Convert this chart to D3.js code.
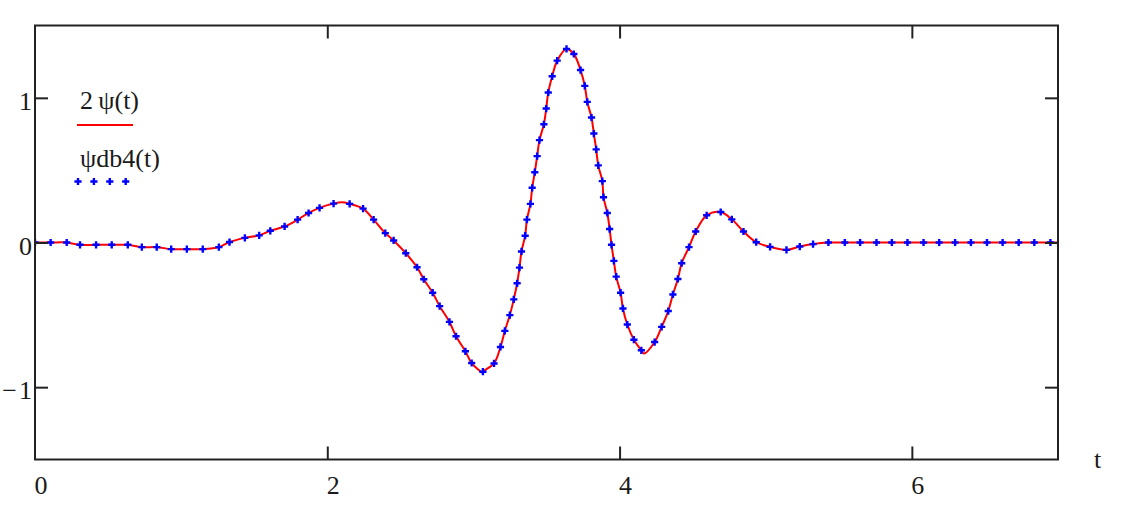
<!DOCTYPE html>
<html>
<head>
<meta charset="utf-8">
<script src="https://cdn.jsdelivr.net/npm/d3@7"></script>
<style>
  body { margin: 0; background: #fff; }
  svg { display: block; font-family: "Liberation Serif", "Times New Roman", serif; }
</style>
</head>
<body>
<div id="chart"></div>
<script>
// samples of psi_db4(t) (blue crosses)
const tValues = [
  0, 0.107, 0.217, 0.308, 0.418, 0.525, 0.635, 0.731, 0.833, 0.932,
  1.039, 1.148, 1.258, 1.331, 1.436, 1.534, 1.61, 1.708, 1.797, 1.872,
  1.947, 2.043, 2.153, 2.245, 2.317, 2.397, 2.454, 2.537, 2.614, 2.66,
  2.721, 2.769, 2.836, 2.881, 2.945, 2.988, 3.065, 3.141, 3.185, 3.215,
  3.249, 3.276, 3.299, 3.315, 3.329, 3.354, 3.366, 3.39, 3.402, 3.42,
  3.436, 3.452, 3.482, 3.498, 3.512, 3.539, 3.573, 3.637, 3.687, 3.733,
  3.762, 3.779, 3.808, 3.824, 3.84, 3.854, 3.882, 3.89, 3.916, 3.932,
  3.945, 3.961, 3.977, 4.007, 4.023, 4.053, 4.098, 4.149, 4.24, 4.288,
  4.333, 4.365, 4.399, 4.425, 4.475, 4.521, 4.596, 4.692, 4.768, 4.848,
  4.935, 5.03, 5.142, 5.233, 5.324, 5.429, 5.541, 5.646, 5.758, 5.863,
  5.97, 6.08, 6.187, 6.296, 6.404, 6.514, 6.621, 6.731, 6.838, 6.948
];
const psiValues = [
  0, 0, 0, -0.016, -0.016, -0.016, -0.016, -0.032, -0.032, -0.046,
  -0.046, -0.046, -0.032, 0.003, 0.032, 0.049, 0.081, 0.111, 0.158, 0.204,
  0.239, 0.269, 0.267, 0.234, 0.158, 0.065, 0.014, -0.074, -0.171, -0.254,
  -0.347, -0.44, -0.549, -0.648, -0.752, -0.833, -0.893, -0.836, -0.722, -0.611,
  -0.502, -0.393, -0.282, -0.174, -0.062, 0.047, 0.158, 0.267, 0.378, 0.486,
  0.597, 0.708, 0.817, 0.926, 1.037, 1.149, 1.257, 1.338, 1.303, 1.192,
  1.083, 0.972, 0.864, 0.753, 0.644, 0.533, 0.424, 0.313, 0.204, 0.093,
  -0.016, -0.127, -0.236, -0.347, -0.456, -0.567, -0.672, -0.745, -0.688, -0.583,
  -0.474, -0.359, -0.252, -0.143, -0.032, 0.076, 0.188, 0.211, 0.16, 0.076,
  0.002, -0.03, -0.051, -0.028, -0.011, 0, 0, 0, 0, 0,
  0, 0, 0, 0, 0, 0, 0, 0, 0, 0
];
// extra points of the red 2psi(t) curve (extremes and right end)
const lineExtraT = [2.1, 3.063, 4.167, 7];
const lineExtraV = [0.278, -0.9, -0.768, 0];

const xTicks = [0, 2, 4, 6];
const yTicks = [-1, 0, 1];
const yTickLabels = ["\u2212\u200a1", "0", "1"];
const legendLabels = ["2\u2009\u03c8(t)", "\u03c8db4(t)"];

const width = 1122, height = 514;
const plotLeft = 35, plotRight = 1058, plotTop = 25.5, plotBottom = 459.5;
const fontSize = "26px";

const x = d3.scaleLinear().domain([0, 7]).range([plotLeft, plotRight]);
const y = d3.scaleLinear().domain([-1.5, 1.5]).range([plotBottom, plotTop]);

const points = tValues.map((t, i) => ({ t: t, v: psiValues[i] }));
const linePoints = points
  .concat(lineExtraT.map((t, i) => ({ t: t, v: lineExtraV[i] })))
  .sort((a, b) => a.t - b.t);

const svg = d3.select("#chart")
  .append("svg")
  .attr("width", width)
  .attr("height", height);

svg.append("clipPath")
  .attr("id", "plot-clip")
  .append("rect")
  .attr("x", plotLeft)
  .attr("y", plotTop)
  .attr("width", plotRight - plotLeft)
  .attr("height", plotBottom - plotTop);

const plot = svg.append("g").attr("clip-path", "url(#plot-clip)");

const line = d3.line()
  .x((d) => x(d.t))
  .y((d) => y(d.v))
  .curve(d3.curveCatmullRom.alpha(0.5));

plot.append("path")
  .datum(linePoints)
  .attr("d", line)
  .attr("fill", "none")
  .attr("stroke", "#ff0000")
  .attr("stroke-width", 2);

const cross = "M-3.6,0H3.6M0,-3.6V3.6";

plot.selectAll(".pt")
  .data(points)
  .enter()
  .append("path")
  .attr("class", "pt")
  .attr("d", cross)
  .attr("transform", (d) => `translate(${x(d.t)},${y(d.v)})`)
  .attr("stroke", "#0000ff")
  .attr("stroke-width", 2.4);

// axes: ticks point inward on all four sides
const tickLen = 13;
const styleAxis = (g) => {
  g.select(".domain").remove();
  g.selectAll(".tick line").attr("stroke", "#222").attr("stroke-width", 2);
  g.selectAll("text").attr("fill", "#1a1a1a").style("font-size", fontSize)
    .style("font-family", "'Liberation Serif', serif");
};

svg.append("g")
  .attr("transform", `translate(0,${plotBottom})`)
  .call(d3.axisBottom(x).tickValues(xTicks).tickSizeInner(-tickLen).tickSizeOuter(0)
    .tickPadding(10).tickFormat(d3.format("d")))
  .call(styleAxis)
  .call((g) => g.selectAll(".tick text").attr("text-anchor", "start").attr("x", -1).attr("y", 34).attr("dy", null))
  .call((g) => g.selectAll(".tick").filter((d) => d === 0).select("line").remove());

svg.append("g")
  .attr("transform", `translate(0,${plotTop})`)
  .call(d3.axisTop(x).tickValues(xTicks.filter((d) => d > 0)).tickSizeInner(-tickLen).tickSizeOuter(0).tickFormat(""))
  .call(styleAxis);

svg.append("g")
  .attr("transform", `translate(${plotLeft},0)`)
  .call(d3.axisLeft(y).tickValues(yTicks).tickSizeInner(-tickLen).tickSizeOuter(0)
    .tickPadding(3).tickFormat((d, i) => yTickLabels[i]))
  .call(styleAxis)
  .call((g) => g.selectAll(".tick text").attr("x", -3).attr("dy", "0.45em"));

svg.append("g")
  .attr("transform", `translate(${plotRight},0)`)
  .call(d3.axisRight(y).tickValues(yTicks).tickSizeInner(-tickLen).tickSizeOuter(0).tickFormat(""))
  .call(styleAxis);

// plot frame
svg.append("rect")
  .attr("x", plotLeft)
  .attr("y", plotTop)
  .attr("width", plotRight - plotLeft)
  .attr("height", plotBottom - plotTop)
  .attr("fill", "none")
  .attr("stroke", "#222")
  .attr("stroke-width", 2);

// axis variable name
svg.append("text")
  .attr("x", 1094)
  .attr("y", 468)
  .style("font-size", fontSize)
  .attr("fill", "#1a1a1a")
  .text("t");

// legend
const legend = svg.append("g");
legend.append("text")
  .attr("x", 80)
  .attr("y", 109)
  .style("font-size", fontSize)
  .attr("fill", "#1a1a1a")
  .text(legendLabels[0]);
legend.append("line")
  .attr("x1", 77)
  .attr("x2", 133)
  .attr("y1", 125)
  .attr("y2", 125)
  .attr("stroke", "#ff0000")
  .attr("stroke-width", 2);
legend.append("text")
  .attr("x", 80)
  .attr("y", 167)
  .style("font-size", fontSize)
  .attr("fill", "#1a1a1a")
  .text(legendLabels[1]);
legend.selectAll(".lg-pt")
  .data(d3.range(4))
  .enter()
  .append("path")
  .attr("class", "lg-pt")
  .attr("d", cross)
  .attr("transform", (d) => `translate(${78 + d * 15.9},181.5)`)
  .attr("stroke", "#0000ff")
  .attr("stroke-width", 2.4);
</script>
</body>
</html>
